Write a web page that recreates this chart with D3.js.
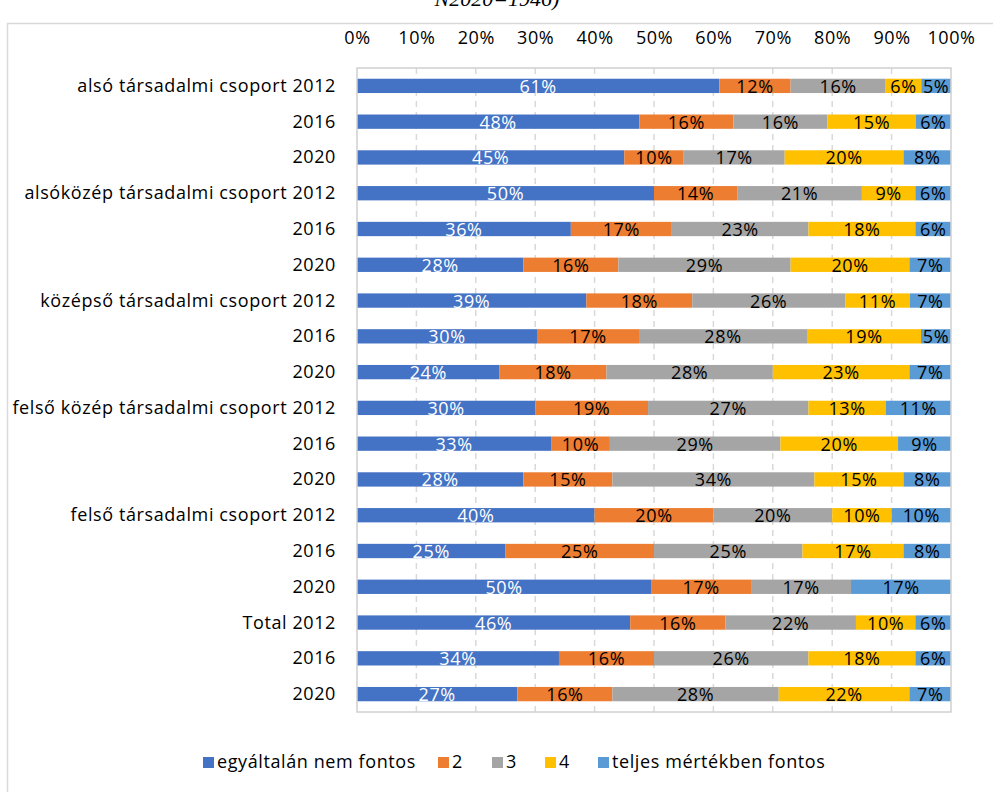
<!DOCTYPE html>
<html>
<head>
<meta charset="utf-8">
<script src="https://cdn.jsdelivr.net/npm/d3@7"></script>
<style>
body{margin:0;background:#fff;font-family:'Open Sans',Lato,sans-serif;}
svg text{letter-spacing:0.6px;}
</style>
</head>
<body>
<script>
var width = 993;
var height = 792;

var categories = ['alsó társadalmi csoport 2012','2016','2020',
	'alsóközép társadalmi csoport 2012','2016','2020',
	'középső társadalmi csoport 2012','2016','2020',
	'felső közép társadalmi csoport 2012','2016','2020',
	'felső társadalmi csoport 2012','2016','2020',
	'Total 2012','2016','2020'];
var seriesNames = ['egyáltalán nem fontos','2','3','4','teljes mértékben fontos'];
var colors = ['#4472C4','#ED7D31','#A5A5A5','#FFC000','#5B9BD5'];
var s1 = [61,48,45,50,36,28,39,30,24,30,33,28,40,25,50,46,34,27];
var s2 = [12,16,10,14,17,16,18,17,18,19,10,15,20,25,17,16,16,16];
var s3 = [16,16,17,21,23,29,26,28,28,27,29,34,20,25,17,22,26,28];
var s4 = [6,15,20,9,18,20,11,19,23,13,20,15,10,17,0,10,18,22];
var s5 = [5,6,8,6,6,7,7,5,7,11,9,8,10,8,17,6,6,7];
var ticks = [0,0.1,0.2,0.3,0.4,0.5,0.6,0.7,0.8,0.9,1];

var rows = categories.map(function(c,i){
	var tot = s1[i]+s2[i]+s3[i]+s4[i]+s5[i];
	return {id:i,name:c,a:s1[i]/tot,b:s2[i]/tot,c:s3[i]/tot,d:s4[i]/tot,e:s5[i]/tot,
		raw:[s1[i],s2[i],s3[i],s4[i],s5[i]]};
});
var keys = ['a','b','c','d','e'];
var fs = '18px';

var svg = d3.select('body').append('svg').attr('width',width).attr('height',height);

// cut-off title from above
svg.append('text').attr('x',497).attr('y',6).attr('text-anchor','middle')
	.style('font-family','Liberation Serif').style('font-style','italic').style('font-size','22px')
	.style('letter-spacing','0px')
	.text('N2020=1946)');

// outer frame
svg.append('rect').attr('x',7.5).attr('y',23.5).attr('width',1000).attr('height',800)
	.attr('fill','none').attr('stroke','#D9D9D9').attr('stroke-width',1.5);

var pLeft = 357, pRight = 951, pTop = 68, pBottom = 712;
var x = d3.scaleLinear().domain([0,1]).range([pLeft,pRight]);
var y = d3.scaleBand().domain(d3.range(categories.length)).range([pTop,pBottom]).paddingInner(0.6).paddingOuter(0.3);

// dashed gridlines
svg.append('g').selectAll('line').data(ticks.slice(1,-1)).enter().append('line')
	.attr('x1',function(d){return x(d);}).attr('x2',function(d){return x(d);})
	.attr('y1',pTop).attr('y2',pBottom)
	.attr('stroke','#D9D9D9').attr('stroke-width',1.5).attr('stroke-dasharray','6,5');

var stack = d3.stack().keys(keys)(rows);

var layers = svg.append('g').selectAll('g').data(stack).enter().append('g')
	.attr('fill',function(d,i){return colors[i];});
layers.selectAll('rect').data(function(d){return d.filter(function(v){return v[1]-v[0]>0;});}).enter().append('rect')
	.attr('x',function(d){return x(d[0]);})
	.attr('width',function(d){return x(d[1])-x(d[0]);})
	.attr('y',function(d){return y(d.data.id);})
	.attr('height',y.bandwidth());

// value labels
stack.forEach(function(layer,k){
	svg.append('g').selectAll('text').data(layer.filter(function(d){return d[1]-d[0]>0;})).enter().append('text')
		.attr('x',function(d){return (x(d[0])+x(d[1]))/2;})
		.attr('y',function(d){return y(d.data.id)+y.bandwidth()/2+7;})
		.attr('text-anchor','middle')
		.style('font-size',fs)
		.attr('fill',k==0?'#fff':'#000')
		.text(function(d){return d.data.raw[k]+'%';});
});

// plot area border
svg.append('rect').attr('x',pLeft).attr('y',pTop).attr('width',pRight-pLeft).attr('height',pBottom-pTop)
	.attr('fill','none').attr('stroke','#D0D0D0').attr('stroke-width',1.5);

// top axis
var xAxis = svg.append('g').attr('transform','translate(0,47)')
	.call(d3.axisTop(x).tickValues(ticks).tickFormat(d3.format('.0%')).tickSize(0));
xAxis.select('.domain').remove();
xAxis.selectAll('text').style('font-family',"'Open Sans'").style('font-size',fs).attr('fill','#000');

// category labels
svg.append('g').selectAll('text').data(rows).enter().append('text')
	.attr('x',336).attr('y',function(d){return y(d.id)+y.bandwidth()/2+6;})
	.attr('text-anchor','end').style('font-size',fs).attr('fill','#000')
	.text(function(d){return d.name;});

// legend
var legX = [203,438,492,545,598];
var leg = svg.append('g').selectAll('g').data(seriesNames).enter().append('g')
	.attr('transform',function(d,i){return 'translate('+legX[i]+',757)';});
leg.append('rect').attr('width',11).attr('height',11).attr('fill',function(d,i){return colors[i];});
leg.append('text').attr('x',14).attr('y',11).style('font-size',fs).attr('fill','#000').text(function(d){return d;});
</script>
</body>
</html>
